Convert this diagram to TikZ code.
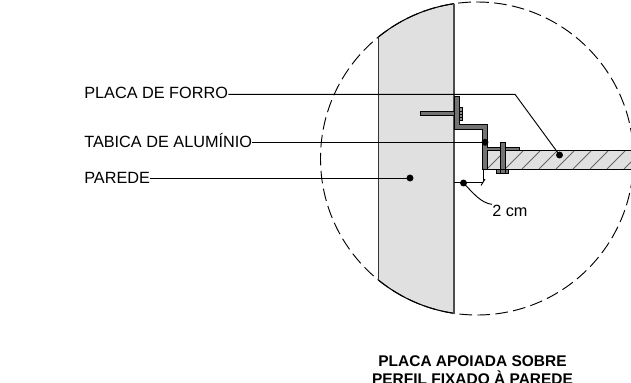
\documentclass[tikz,border=0pt]{standalone}
\usepackage{fontspec}
\setmainfont{Liberation Sans}
\tikzset{
  x=0.75pt,y=-0.75pt,
  lbl/.style={inner sep=0pt,font=\fontsize{12.2}{14}\selectfont},
  ttl/.style={inner sep=0pt,align=center,anchor=base,font=\fontsize{11.6}{13.5}\selectfont\bfseries},
  leader/.style={draw=black,line width=0.7pt},
  dotm/.style={circle,fill=black,inner sep=0pt,minimum size=5.2pt},
  steel/.style={draw=black,fill=black!55,line width=0.5pt},
}
\begin{document}
\begin{tikzpicture}
\useasboundingbox (0,0) rectangle (631,382);
\def\cpath{(477,158.5) circle [radius=117.375pt]}
% wall
\begin{scope}
  \clip \cpath;
  \fill[black!12] (378.5,0) rectangle (454,320);
  \fill[black!12] (487,151) rectangle (640,169);
  \draw[black!60,line width=0.6pt] (487,169) -- (505,151)
    (505,169) -- (523,151) (522,169) -- (540,151) (539,169) -- (557,151)
    (556,169) -- (574,151) (573,169) -- (591,151) (590,169) -- (608,151)
    (607,169) -- (625,151) (624,169) -- (642,151);
  \draw[black,line width=0.8pt] (487,150.8) -- (640,150.8) (487,169.3) -- (640,169.3);
\end{scope}
\draw[black,line width=0.7pt,dash pattern=on 9.5pt off 4pt] \cpath;
\begin{scope}
  \clip (378.5,0) rectangle (454,320);
  \draw[black,line width=0.8pt] \cpath;
\end{scope}
\draw[black!80,line width=0.9pt] (378.5,36.9) -- (378.5,280.1);
\draw[black!70,line width=1.2pt] (454,3.5) -- (454,313.5);
% profile
\draw[steel] (454,96.8) -- (459,96.8) -- (459,124.3) -- (487.3,124.3) -- (487.3,147.3)
  -- (519.6,147.3) -- (519.6,150.8) -- (487.3,150.8) -- (487.3,169.3) -- (482.7,169.3)
  -- (482.7,129) -- (454,129) -- cycle;
\draw[steel] (420,111.4) rectangle (454,115.3);
\draw[steel,fill=black!45] (459,107.7) rectangle (462.6,120);
\draw[black,line width=0.4pt] (459,111) -- (462.6,111) (459,114) -- (462.6,114) (459,117) -- (462.6,117);
\draw[steel] (500.3,142.3) rectangle (505,169.3);
\draw[steel] (496.7,169.3) rectangle (508.7,173.3);
\draw[black,line width=0.4pt] (500.3,169.3) -- (500.3,173.3) (505,169.3) -- (505,173.3);
% dots
\node[dotm] (d1) at (559.5,155) {};
\node[dotm] (d2) at (485,142.3) {};
\node[dotm] (d3) at (410,178) {};
\node[dotm] (d4) at (463.5,183) {};
% labels
\node[lbl,anchor=base west] (l1) at (84,98.5) {PLACA DE FORRO};
\node[lbl,anchor=base west] (l2) at (84,147) {TABICA DE ALUMÍNIO};
\node[lbl,anchor=base west] (l3) at (84,183) {PAREDE};
\node[lbl,anchor=base west] (l4) at (492,216) {2 cm};
\node[ttl] (t) at (472.5,384) {PLACA APOIADA SOBRE\\PERFIL FIXADO À PAREDE};
% leaders
\coordinate (b1) at (515,94.3);
\draw[leader] (l1.east |- b1) -- (b1) -- (d1.center);
\draw[leader] (l2.east |- d2) -- (d2.center);
\draw[leader] (l3.east |- d3) -- (d3.center);
\coordinate (w4) at (454,182.3);
\coordinate (e4) at (483,182.3);
\coordinate (t1) at (481,185.5);
\coordinate (t2) at (485,179);
\draw[leader] (w4) -- (e4);
\draw[leader] (t1) -- (t2);
\draw[leader] (e4) -- ++(0,-13);
\draw[leader] (d4.center) .. controls (473,193) and (481,203) .. (l4.north west);
\end{tikzpicture}
\end{document}
